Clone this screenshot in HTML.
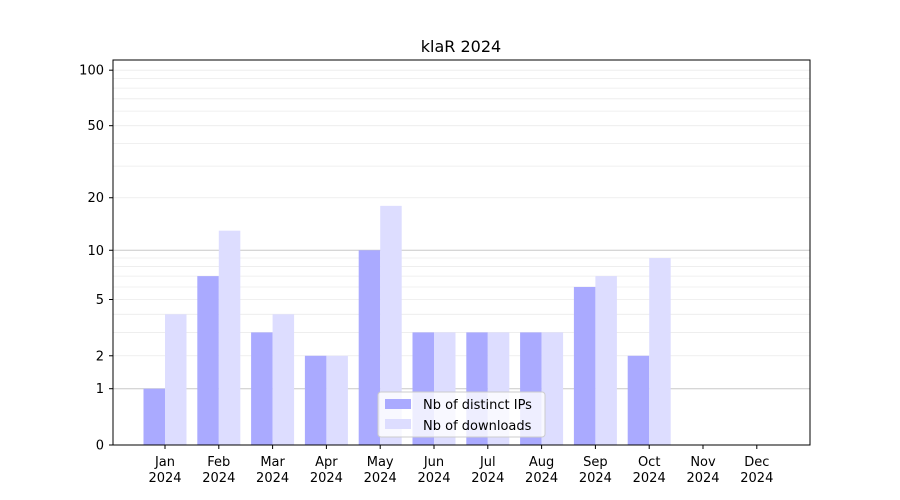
<!DOCTYPE html>
<html><head><meta charset="utf-8"><style>body{margin:0;background:#fff}svg{display:block}text{font-family:"DejaVu Sans","Liberation Sans",sans-serif;font-size:13px;fill:#000}</style></head>
<body>
<svg width="900" height="500" xmlns="http://www.w3.org/2000/svg">
<rect width="900" height="500" fill="#fff"/>
<g id="grid"></g>
<g id="bars"></g>
<rect x="113" y="60" width="697" height="385" fill="none" stroke="#000" stroke-width="1"/>
<g id="ticks"></g>
<text x="461" y="52" text-anchor="middle" style="font-size:16px">klaR 2024</text>
<g>
<rect x="378" y="392" width="167" height="45" fill="#fff" fill-opacity="0.8" stroke="#ccc" rx="3"/>
<rect x="385" y="399" width="26" height="10" fill="#aaaaff"/>
<text x="423" y="409">Nb of distinct IPs</text>
<rect x="385" y="419" width="26" height="10" fill="#ddddff"/>
<text x="423" y="430">Nb of downloads</text>
</g>
</svg>
<script>
const ns="http://www.w3.org/2000/svg";
function Y(v){return 445-187*Math.log10(1+v);}
function el(p,t,a,txt){const e=document.createElementNS(ns,t);for(const k in a)e.setAttribute(k,a[k]);if(txt!==undefined)e.textContent=txt;document.querySelector(p).appendChild(e);return e;}
// minor grid
const minors=[2,3,4,5,6,7,8,9,20,30,40,50,60,70,80,90,100];
minors.forEach(v=>{const y=Y(v);el("#grid","line",{x1:113,x2:810,y1:y,y2:y,stroke:"#ebebeb","stroke-width":0.8});});
[1,10].forEach(v=>{const y=Y(v);el("#grid","line",{x1:113,x2:810,y1:y,y2:y,stroke:"#c8c8c8","stroke-width":1});});
const ips=[1,7,3,2,10,3,3,3,6,2,0,0],dl=[4,13,4,2,18,3,3,3,7,9,0,0];
const mon=["Jan","Feb","Mar","Apr","May","Jun","Jul","Aug","Sep","Oct","Nov","Dec"];
for(let i=0;i<12;i++){const c=165+i*53.8;
if(ips[i]>0)el("#bars","rect",{x:c-21.5,y:Y(ips[i]),width:21.5,height:445-Y(ips[i]),fill:"#aaaaff"});
if(dl[i]>0)el("#bars","rect",{x:c,y:Y(dl[i]),width:21.5,height:445-Y(dl[i]),fill:"#ddddff"});
el("#ticks","line",{x1:c,x2:c,y1:445,y2:449,stroke:"#000"});
el("#ticks","text",{x:c,y:466,"text-anchor":"middle"},mon[i]);
el("#ticks","text",{x:c,y:482,"text-anchor":"middle"},"2024");}
[0,1,2,5,10,20,50,100].forEach(v=>{const y=Y(v);el("#ticks","line",{x1:109,x2:113,y1:y,y2:y,stroke:"#000"});el("#ticks","text",{x:104,y:y+4.5,"text-anchor":"end"},String(v));});
</script>
</body></html>
